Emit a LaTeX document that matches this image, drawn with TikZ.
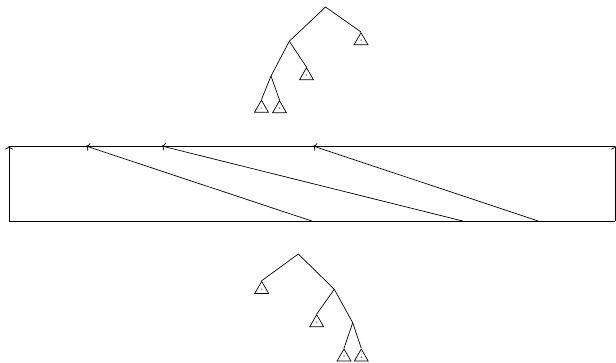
\documentclass[tikz,border=0pt]{standalone}
\usetikzlibrary{shapes.geometric,arrows.meta}
\tikzset{
  leaf/.style={draw,regular polygon,regular polygon sides=3,minimum size=16pt,inner sep=0pt,anchor=corner 1,
    font=\fontsize{3}{3}\selectfont},
  edge/.style={line width=0.7pt}
}
\begin{document}
\begin{tikzpicture}[x=1pt,y=-1pt,line width=0.7pt,>={To[length=3.5pt,width=8pt]}]
  \useasboundingbox (0,0) rectangle (616,362);
  % tree before
  \coordinate (r) at (325.5,7);
  \coordinate (a) at (289.3,41.3);
  \coordinate (b) at (271,76);
  \node[leaf] (u4) at (361,32) {4};
  \node[leaf] (u3) at (306.5,67) {3};
  \node[leaf] (u1) at (261.5,99.5) {1};
  \node[leaf] (u2) at (279.5,100) {2};
  \draw[edge] (u4.corner 1)--(r)--(a)--(b)--(u1.corner 1);
  \draw[edge] (a)--(u3.corner 1);
  \draw[edge] (b)--(u2.corner 1);
  % the band
  \coordinate (bl) at (9,221);
  \coordinate (tl) at (9,146);
  \coordinate (br) at (615,221);
  \coordinate (tr) at (615,146);
  \draw (bl)--(br);
  \draw (tl)--(tr);
  \draw[->] (bl)--(tl);
  \draw[->] (br)--(tr);
  \foreach \s/\t in {311.7/86,462.7/161.7,538.3/313}{
    \draw[->] (\s,221)--(\t,146);
  }
  % tree after
  \coordinate (q) at (298.3,254);
  \coordinate (c) at (334.3,289.3);
  \coordinate (d) at (352.7,322.7);
  \node[leaf] (v1) at (261.7,280.7) {1};
  \node[leaf] (v2) at (316.7,314) {2};
  \node[leaf] (v3) at (344,348.3) {3};
  \node[leaf] (v4) at (361.3,348.3) {4};
  \draw[edge] (v1.corner 1)--(q)--(c)--(d)--(v4.corner 1);
  \draw[edge] (c)--(v2.corner 1);
  \draw[edge] (d)--(v3.corner 1);
\end{tikzpicture}
\end{document}
